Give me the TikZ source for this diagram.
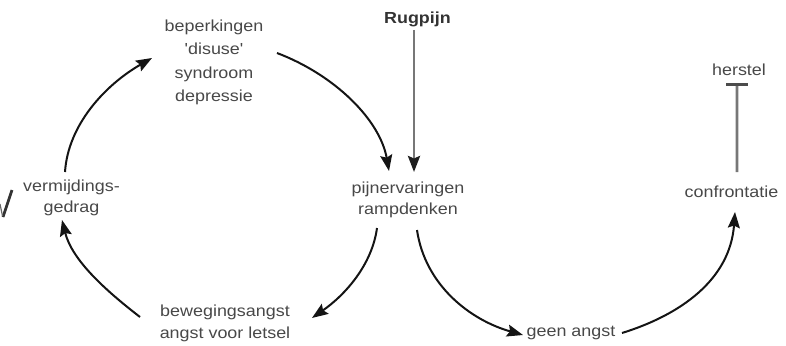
\documentclass[tikz,border=0pt]{standalone}
\usepackage{fontspec}
\setmainfont{Liberation Sans}[FakeStretch=1.12, Ligatures=TeXOff]
\usetikzlibrary{arrows.meta}
\definecolor{txt}{HTML}{484848}
\definecolor{grayln}{HTML}{777777}
\definecolor{headc}{HTML}{1E1E1E}
\tikzset{
  lbl/.style={inner sep=0pt, text=txt, font=\fontsize{16bp}{21bp}\selectfont, align=center},
  cyc/.style={draw=black!92, line width=2bp, -{Stealth[length=16bp,width=12bp,inset=2.5bp]}},
  downarrow/.style={draw=grayln, line width=2.8bp, -{Stealth[length=16bp,width=12bp,inset=2.5bp,color=headc]}},
  tbar/.style={draw=grayln, line width=2.8bp, -{Bar[width=22bp,line width=2.8bp,color=black!70]}}
}
\begin{document}
\begin{tikzpicture}[x=1bp,y=1bp]
\useasboundingbox (0,0) rectangle (786,345);
% stray mark at left edge
\draw[black!80, line width=2.8bp] (12,155) -- (3,128);
\draw[black!60, line width=1.2bp] (0,141) -- (2.5,129);
% nodes
\node[lbl, anchor=base, font=\fontsize{16bp}{21bp}\selectfont\bfseries, text=black!80] (rug) at (417.5,322) {Rugpijn};
\node[lbl, anchor=north, font=\fontsize{16bp}{23.2bp}\selectfont] (bep) at (214,325) {beperkingen\\'disuse'\\syndroom\\depressie};
\node[lbl, anchor=north, font=\fontsize{16bp}{21bp}\selectfont] (pij) at (408,163) {pijnervaringen\\rampdenken};
\node[lbl, anchor=north, font=\fontsize{16bp}{21bp}\selectfont] (ver) at (71.5,165.5) {vermijdings-\\gedrag};
\node[lbl, anchor=north, font=\fontsize{16bp}{22bp}\selectfont] (bew) at (225,40) {bewegingsangst\\angst voor letsel};
\node[lbl, anchor=base] (gee) at (571,9) {geen angst};
\node[lbl, anchor=base] (con) at (731.5,148) {confrontatie};
\node[lbl, anchor=base] (her) at (739,270) {herstel};
% connectors
\draw[downarrow] ([shift={(-3.5,-7)}]rug.base) -- ([shift={(6,10)}]pij.north);
\draw[cyc] ([shift={(63,-33)}]bep.north) .. controls +(58,-22) and +(-9,51) .. ([shift={(-19,11)}]pij.north);
\draw[cyc] ([shift={(-31,-46)}]pij.north) .. controls +(-5,-37) and +(33,23) .. ([shift={(87,-13)}]bew.north);
\draw[cyc] ([shift={(-85,-12)}]bew.north) .. controls +(-35,27) and +(10,-40) .. ([shift={(-9.5,-40.5)}]ver.north);
\draw[cyc] ([shift={(-6.5,7.5)}]ver.north) .. controls +(3,47) and +(-47,-27) .. ([shift={(-62,-38)}]bep.north);
\draw[cyc] ([shift={(9,-48)}]pij.north) .. controls +(8,-55) and +(-53,15) .. ([shift={(-48,1)}]gee.base);
\draw[cyc] ([shift={(51,3)}]gee.base) .. controls +(58,18) and +(-5,-68) .. ([shift={(3.5,-15)}]con.base);
\draw[tbar] ([shift={(5.5,25)}]con.base) -- ([shift={(-2,-8)}]her.base);
\end{tikzpicture}
\end{document}
